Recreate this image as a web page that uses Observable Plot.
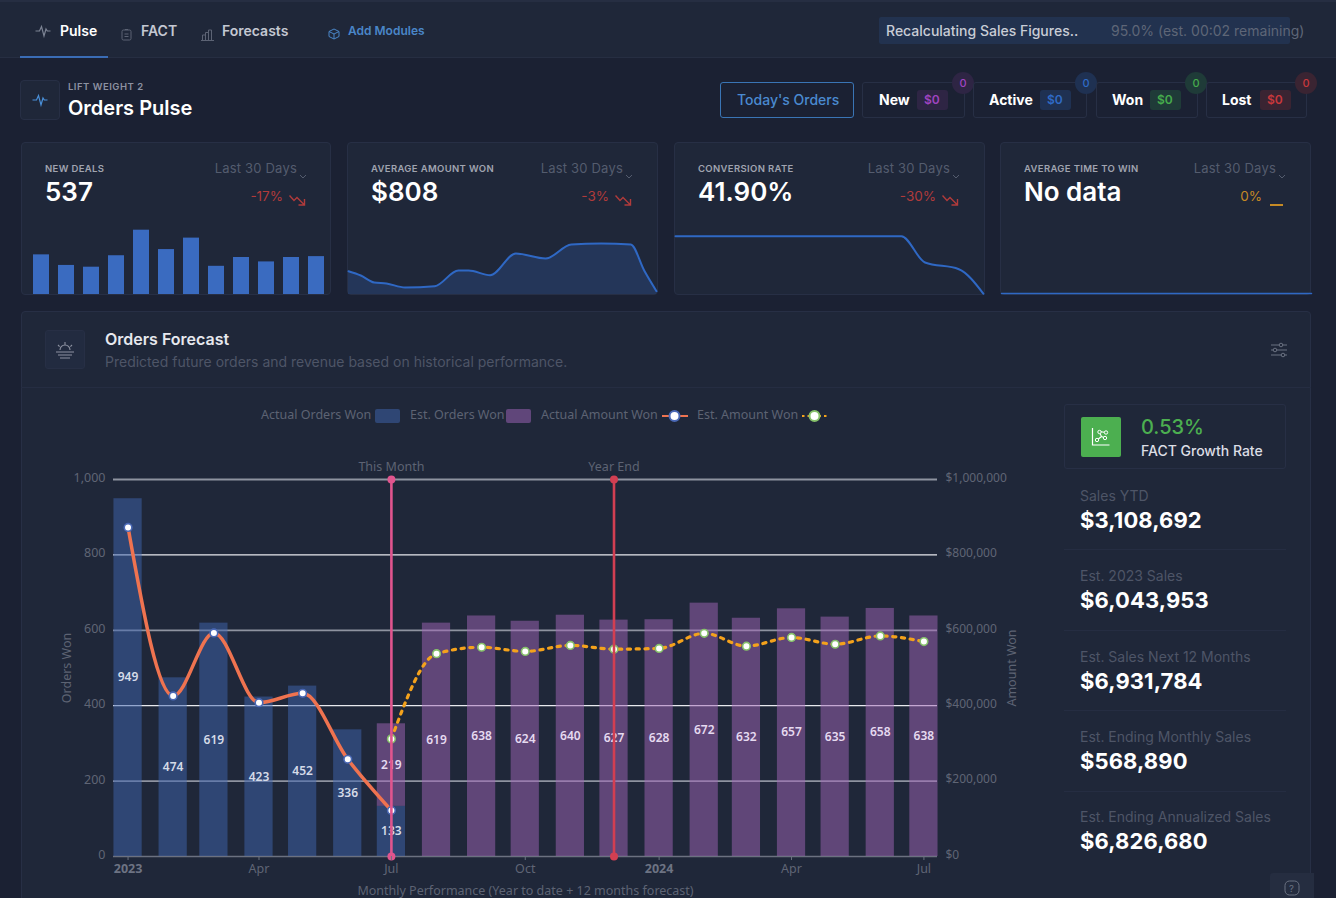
<!DOCTYPE html>
<html><head><meta charset="utf-8">
<script src="https://cdn.jsdelivr.net/npm/d3@7"></script>
<script src="https://cdn.jsdelivr.net/npm/@observablehq/plot@0.6"></script>
<style>
html,body{margin:0;padding:0;background:#1b2133;width:1336px;height:898px;overflow:hidden;font-family:Inter,sans-serif}
#page{position:absolute;left:0;top:0;width:1336px;height:898px;overflow:hidden}
.t{position:absolute;white-space:nowrap;transform:translateY(-50%);line-height:1.1}
.b{position:absolute;box-sizing:border-box}
.plot{position:absolute;background:transparent!important}
</style></head><body><div id="page"></div>
<script>
// ---------- main chart data ----------
const actualMonths = ["2023-01","2023-02","2023-03","2023-04","2023-05","2023-06","2023-07"];
const actualOrders = [949,474,619,423,452,336,133];
const actualAmount = [873000,426000,593000,408000,433000,258000,122000];
const estMonths = ["2023-07","2023-08","2023-09","2023-10","2023-11","2023-12","2024-01","2024-02","2024-03","2024-04","2024-05","2024-06","2024-07"];
const estOrders = [219,619,638,624,640,627,628,672,632,657,635,658,638];
const estBase = [133,0,0,0,0,0,0,0,0,0,0,0,0];
const estAmount = [312000,538000,555000,544000,560000,550000,552000,592000,558000,581000,563000,585000,570000];
const gridStrong = [0.2,0.6,1].map(d=>d*1000);
const gridThin = [400,800];
const yTicks = [0,200,400,600,800,1000];
const monthTicks = ["2023-04","2023-07","2023-10","2024-04","2024-07"];
const yearTicks = ["2023-01","2024-01"];
const markers = [{m:"2023-07",label:"This Month",color:"#e0558e"},{m:"2023-12",label:"Year End",color:"#d23f52"}];

// ---------- sparkline data ----------
const dealBars = [45,33,31,44,73,51,64,32,42,37,42,43];
const amountDays = [0,1.2,2.5,3.7,5.5,8.4,10.7,11.7,13.8,16.3,19.2,21.7,24.6,27.5,28.8,30];
const amountVals = [466,380,240,220,140,166,480,480,386,820,720,1000,1020,1000,480,66];
const convDays = [0,8,16,22,24.3,27.6,30];
const convVals = [58.3,58.3,58.3,58.3,32,25.3,0.7];
const winDays = [0,30];
const winVals = [0,0];

const parse = s => new Date(s+"-01T00:00:00Z");
const DAY = 864e5;
const page = document.getElementById("page");

function t(x,y,str,css={}){const e=document.createElement("div");e.className="t";e.textContent=str;
 e.style.left=x+"px";e.style.top=y+"px";Object.assign(e.style,css);page.appendChild(e);return e}
function rt(x,y,str,css={}){const e=t(0,y,str,css);e.style.left="auto";e.style.right=(1336-x)+"px";return e}
function b(x,y,w,h,css={}){const e=document.createElement("div");e.className="b";
 Object.assign(e.style,{left:x+"px",top:y+"px",width:w+"px",height:h+"px"},css);page.appendChild(e);return e}
function ic(x,y,w,h,inner){const e=document.createElement("div");e.style.cssText=`position:absolute;left:${x}px;top:${y}px;width:${w}px;height:${h}px`;
 e.innerHTML=`<svg width="${w}" height="${h}" viewBox="0 0 ${w} ${h}" fill="none">${inner}</svg>`;page.appendChild(e)}

const PANEL="#1f2739", BORD="#272f45";
// nav
b(0,0,1336,58,{background:PANEL,borderBottom:"1px solid #262e42",borderTop:"2px solid #262e42"});
b(20,56,88,2,{background:"#3a6cb5"});
const pulse=c=>`<path d="M0.5 8H4.5L6.5 3.5L9 13L11 6L12.3 8H15.5" stroke="${c}" stroke-width="1.2"/>`;
ic(35,23,16,16,pulse("#7d8494"));
t(60,31,"Pulse",{fontSize:"14px",fontWeight:600,color:"#fff"});
ic(121,25,11,13,`<rect x="1" y="2" width="9" height="10" rx="1.5" stroke="#5c6374"/><path d="M4 1.5h3M3.5 6h4M3.5 8.5h4" stroke="#5c6374"/>`);
t(141,31,"FACT",{fontSize:"14px",fontWeight:600,color:"#c4c8d2"});
ic(201,25,13,13,`<path d="M1.5 12V7h3v5M4.5 12V4.5h3V12M7.5 12V2h3v10M0 12.5h13" stroke="#5c6374"/>`);
t(222,31,"Forecasts",{fontSize:"14px",fontWeight:600,color:"#c4c8d2"});
ic(328,25,12,13,`<path d="M6 1l5 2.5v5L6 11 1 8.5v-5zM1 3.5l5 2.5 5-2.5M6 6v5" stroke="#4a86c8"/>`);
t(348,31,"Add Modules",{fontSize:"12px",fontWeight:600,color:"#4a86c8"});
b(879,17,411,27,{background:"#22324f",borderRadius:"2px"});
t(886,31,"Recalculating Sales Figures..",{fontSize:"14px",fontWeight:500,color:"#c9cdd6"});
t(1111,31,"95.0% (est. 00:02 remaining)",{fontSize:"14px",color:"#5e6677"});

// heading
b(20,80,40,40,{background:PANEL,border:"1px solid "+BORD,borderRadius:"4px"});
ic(32,92,16,16,pulse("#4a90d9"));
t(68,87,"LIFT WEIGHT 2",{fontSize:"9.5px",fontWeight:600,color:"#8d92a1",letterSpacing:".5px"});
t(68,108,"Orders Pulse",{fontSize:"20px",fontWeight:600,color:"#fff"});

// buttons
b(720,82,134,36,{border:"1px solid #3a75b5",borderRadius:"3px"});
t(737,100,"Today's Orders",{fontSize:"14px",fontWeight:500,color:"#4a8ad0"});
[[862,103,"New",879,917,"#a044c0","#2e2544",963],
 [973,114,"Active",989,1040,"#2f6bc6","#1f3152",1086],
 [1096,102,"Won",1112,1150,"#46ac4c","#1f3b38",1196],
 [1206,101,"Lost",1222,1260,"#c8383c","#3a2432",1306]].forEach(([x,w,lab,lx,cx,c,bg,bx])=>{
  b(x,82,w,36,{border:"1px solid "+BORD,borderRadius:"3px"});
  t(lx,100,lab,{fontSize:"14px",fontWeight:700,color:"#fff"});
  b(cx,90,31,20,{background:bg,borderRadius:"3px"});
  t(cx+7,100,"$0",{fontSize:"12px",fontWeight:600,color:c});
  b(bx-11,72,22,22,{background:bg,borderRadius:"50%"});
  t(bx-3.5,83,"0",{fontSize:"11px",fontWeight:500,color:c});
});

// KPI cards
const cards=[[21,310,"NEW DEALS","537","-17%","#b13b3b"],[347,311,"AVERAGE AMOUNT WON","$808","-3%","#b13b3b"],
 [674,311,"CONVERSION RATE","41.90%","-30%","#b13b3b"],[1000,311,"AVERAGE TIME TO WIN","No data","0%","#c58a25"]];
cards.forEach(([x,w,lab,val,dl,c],i)=>{
  b(x,142,w,153,{background:PANEL,border:"1px solid "+BORD,borderRadius:"4px"});
  t(x+24,168.5,lab,{fontSize:"9.5px",fontWeight:600,color:"#a0a4b0",letterSpacing:".35px"});
  rt(x+276,167.5,"Last 30 Days",{fontSize:"13px",color:"#545c6e",letterSpacing:".2px"});
  ic(x+278,164,8,6,`<path d="M1 1l3 3 3-3" stroke="#545c6e"/>`);
  t(x+24,192,val,{fontSize:"26px",fontWeight:600,color:"#fff"});
  rt(x+(i==3?262:262),196,dl,{fontSize:"13.5px",color:c});
  if(i<3) ic(x+268,190,17,12,`<path d="M0.5 1.5L5 6.5L8 3.5L15 10.5M15.5 5v6h-6" stroke="${c}" stroke-width="1.4"/>`);
  else ic(x+270,192,13,6,`<path d="M0 3h13" stroke="${c}" stroke-width="2"/>`);
});

// Forecast panel
b(21,311,1290,600,{background:PANEL,border:"1px solid "+BORD,borderRadius:"4px"});
b(21,387,1290,1,{background:"#252d42"});
b(45,330,40,39,{background:"#222b40",border:"1px solid "+BORD,borderRadius:"3px"});
ic(55,340,20,20,`<path d="M1 12h18M3 15h14M5 18h10M5 10a5 5 0 0 1 10 0M10 2v2.5M3 5l1.6 1.6M17 5l-1.6 1.6" stroke="#8d92a1" stroke-width="1.1"/>`);
t(105,340,"Orders Forecast",{fontSize:"16px",fontWeight:600,color:"#e6e8ee"});
t(105,361.5,"Predicted future orders and revenue based on historical performance.",{fontSize:"14px",color:"#4e5567"});
ic(1271,342,16,16,`<path d="M0 3h16M0 8h16M0 13h16" stroke="#6b7282"/><circle cx="10" cy="3" r="1.8" fill="${PANEL}" stroke="#6b7282"/><circle cx="4" cy="8" r="1.8" fill="${PANEL}" stroke="#6b7282"/><circle cx="12" cy="13" r="1.8" fill="${PANEL}" stroke="#6b7282"/>`);

// right column
b(1064,404,222,65,{border:"1px solid "+BORD,borderRadius:"3px"});
b(1081,417,40,40,{background:"#4caf50",borderRadius:"2px"});
ic(1091,427,20,20,`<path d="M1.5 1v17h17" stroke="#fff" stroke-width="1.2"/><path d="M6 13L10.5 9.5 8 4.5 15 5.5M10.5 9.5L14 11" stroke="#fff" stroke-width="1.1"/><circle cx="6" cy="13" r="1.7" fill="#4caf50" stroke="#fff"/><circle cx="8.5" cy="5" r="1.7" fill="#4caf50" stroke="#fff"/><circle cx="14" cy="11" r="1.7" fill="#4caf50" stroke="#fff"/><circle cx="15" cy="5.5" r="1.7" fill="#4caf50" stroke="#fff"/>`);
t(1141,427,"0.53%",{fontSize:"20px",fontWeight:500,color:"#4caf50"});
t(1141,451,"FACT Growth Rate",{fontSize:"14px",fontWeight:500,color:"#dcdee5"});
[["Sales YTD","$3,108,692",496,519.5],["Est. 2023 Sales","$6,043,953",576,600],["Est. Sales Next 12 Months","$6,931,784",656.5,680.5],
 ["Est. Ending Monthly Sales","$568,890",737,761],["Est. Ending Annualized Sales","$6,826,680",817,841]].forEach(([a,v,y1,y2],i)=>{
  t(1080,y1,a,{fontSize:"14px",color:"#4e5567"});
  t(1080,y2,v,{fontSize:"22px",fontWeight:700,color:"#fff",letterSpacing:".1px"});
  if(i<4) b(1064,[549,630,710,791][i],222,1,{background:"#252d42"});
});
b(1270,873,44,25,{background:"#252d40",borderTopLeftRadius:"3px"});
ic(1284,880,16,16,`<rect x="1" y="1" width="14" height="14" rx="4.5" stroke="#6b7282"/>`);
t(1289,889,"?",{fontSize:"9.5px",color:"#6b7282"});

// legend
const LEG={fontFamily:"'Noto Sans',sans-serif",fontSize:"12.5px",color:"#5d6373"};
t(261,415,"Actual Orders Won",LEG);
b(375,409,25,14,{background:"#2f4674",borderRadius:"2px"});
t(410,415,"Est. Orders Won",LEG);
b(506,409,25,14,{background:"#60467a",borderRadius:"2px"});
t(541,415,"Actual Amount Won",LEG);
ic(662,408,26,16,`<path d="M0 8h26" stroke="#ef7350" stroke-width="2"/><circle cx="12.5" cy="8" r="5" fill="#fff" stroke="#4a68b5" stroke-width="2"/>`);
t(697,415,"Est. Amount Won",LEG);
ic(802,408,27,16,`<path d="M0 8h27" stroke="#f4a21c" stroke-width="2" stroke-dasharray="2.5,3"/><circle cx="12.5" cy="8" r="5" fill="#fff" stroke="#86c06a" stroke-width="2"/>`);

// ---------- Plot charts ----------
const actualRows = actualMonths.map((m,i)=>({date:parse(m),orders:actualOrders[i],amount:actualAmount[i]}));
const estRows = estMonths.map((m,i)=>({date:parse(m),orders:estOrders[i],base:estBase[i],amount:estAmount[i]}));
const markerRows = markers.map(d=>({...d,date:parse(d.m)}));
const HALF = 9.7*DAY;
const FONT = "'Noto Sans',sans-serif";
const fmtK = d=>"$"+d3.format(",")(d*1000);

const main = Plot.plot({
  width:990,height:458,marginLeft:73,marginRight:93,marginTop:39,marginBottom:42,
  style:{background:"transparent",fontFamily:FONT,overflow:"visible"},
  x:{type:"utc",domain:[new Date(Date.UTC(2022,11,22)),new Date(Date.UTC(2024,6,10,8))]},
  y:{domain:[0,1000]},
  marks:[
    Plot.ruleY(gridThin,{stroke:"#e8e9ee",strokeWidth:1.2}),
    Plot.ruleY(gridStrong,{stroke:"#8e93a0",strokeWidth:1.8}),
    Plot.ruleY([0],{stroke:"#6b7180",strokeWidth:1.3}),
    Plot.rect(actualRows,{x1:d=>new Date(+d.date-HALF),x2:d=>new Date(+d.date+HALF),y1:0,y2:"orders",fill:"#3f65af",fillOpacity:.5}),
    Plot.rect(estRows,{x1:d=>new Date(+d.date-HALF),x2:d=>new Date(+d.date+HALF),y1:"base",y2:d=>d.base+d.orders,fill:"#a165b7",fillOpacity:.5}),
    Plot.text(actualRows,{x:"date",y:d=>d.orders/2,text:d=>String(d.orders),fill:"#d5dbe8",fontSize:12,fontWeight:600}),
    Plot.text(estRows,{x:"date",y:d=>d.base+d.orders/2,text:d=>String(d.orders),fill:"#e6daf0",fontSize:12,fontWeight:600}),
    Plot.line(estRows,{x:"date",y:d=>d.amount/1000,curve:"monotone-x",stroke:"#f4a21c",strokeWidth:3.2,strokeDasharray:"3.2,5.6"}),
    Plot.line(actualRows,{x:"date",y:d=>d.amount/1000,curve:"monotone-x",stroke:"#ef7350",strokeWidth:3.5}),
    Plot.dot(estRows,{x:"date",y:d=>d.amount/1000,r:3.8,fill:"#fff",stroke:"#86c06a",strokeWidth:1.6}),
    Plot.dot(actualRows,{x:"date",y:d=>d.amount/1000,r:3.8,fill:"#fff",stroke:"#4a68b5",strokeWidth:1.6}),
    Plot.ruleX(markerRows,{x:"date",y1:0,y2:1000,stroke:"color",strokeWidth:2.6}),
    Plot.dot(markerRows,{x:"date",y:1000,r:4,fill:"color"}),
    Plot.dot(markerRows,{x:"date",y:0,r:4,fill:"color"}),
    Plot.text(markerRows,{x:"date",y:1000,text:"label",dy:-12.5,fill:"#5d6373",fontSize:12.5}),
    Plot.axisY(yTicks,{anchor:"left",label:null,tickSize:0,tickPadding:8,dy:-1.5,fill:"#5f6575",fontSize:12.5}),
    Plot.axisY(yTicks,{anchor:"right",label:null,tickSize:0,tickPadding:8,dy:-1.5,tickFormat:fmtK,fill:"#5f6575",fontSize:12}),
    Plot.axisX(monthTicks.map(parse),{anchor:"bottom",label:null,tickSize:4,tickPadding:4,tickFormat:d3.utcFormat("%b"),stroke:"#6b7180",fill:"#5f6575",fontSize:12.5}),
    Plot.axisX(yearTicks.map(parse),{anchor:"bottom",label:null,tickSize:4,tickPadding:4,tickFormat:d3.utcFormat("%Y"),stroke:"#6b7180",fill:"#6d7383",fontSize:12.5,fontWeight:700}),
    Plot.text(["Orders Won"],{frameAnchor:"left",dx:-47,rotate:-90,textAnchor:"middle",fill:"#5d6373",fontSize:12.5}),
    Plot.text(["Amount Won"],{frameAnchor:"right",dx:74,rotate:-90,textAnchor:"middle",fill:"#5d6373",fontSize:12.5}),
    Plot.text(["Monthly Performance (Year to date + 12 months forecast)"],{frameAnchor:"bottom",dy:34,lineAnchor:"middle",textAnchor:"middle",fill:"#5d6373",fontSize:12.5})
  ]
});
main.classList.add("plot");main.style.left="40px";main.style.top="440px";page.appendChild(main);

function place(svg,x,y){svg.classList.add("plot");svg.style.left=x+"px";svg.style.top=y+"px";page.appendChild(svg)}
const BLUE="#2f68c4";
const sparkBase={height:74,marginTop:0,marginBottom:0,marginLeft:0,marginRight:0,style:{background:"transparent",overflow:"visible"},x:{axis:null},y:{axis:null}};

place(Plot.plot({...sparkBase,width:309,
  x:{axis:null,type:"band",domain:d3.range(dealBars.length),padding:.36,round:false},
  y:{axis:null,domain:[0,84]},
  marks:[Plot.barY(dealBars,{x:(d,i)=>i,y:d=>d,fill:"#3a6bc0"})]}),24,220);

const rows=(ds,vs)=>ds.map((d,i)=>({d,v:vs[i]}));
place(Plot.plot({...sparkBase,width:308,
  x:{axis:null,domain:[0,30]},y:{axis:null,domain:[0,1480]},
  marks:[
    Plot.areaY(rows(amountDays,amountVals),{x:"d",y:"v",curve:"monotone-x",fill:"#28416f",fillOpacity:.6}),
    Plot.lineY(rows(amountDays,amountVals),{x:"d",y:"v",curve:"monotone-x",stroke:BLUE,strokeWidth:2})]}),348,220);

place(Plot.plot({...sparkBase,width:308,
  x:{axis:null,domain:[0,30]},y:{axis:null,domain:[0,74]},
  marks:[Plot.lineY(rows(convDays,convVals),{x:"d",y:"v",curve:"monotone-x",stroke:BLUE,strokeWidth:2})]}),674.5,220);

place(Plot.plot({...sparkBase,width:310,
  x:{axis:null,domain:[0,30]},y:{axis:null,domain:[-1,73]},
  marks:[Plot.lineY(rows(winDays,winVals),{x:"d",y:"v",stroke:BLUE,strokeWidth:1.5})]}),1001,220);
</script></body></html>
